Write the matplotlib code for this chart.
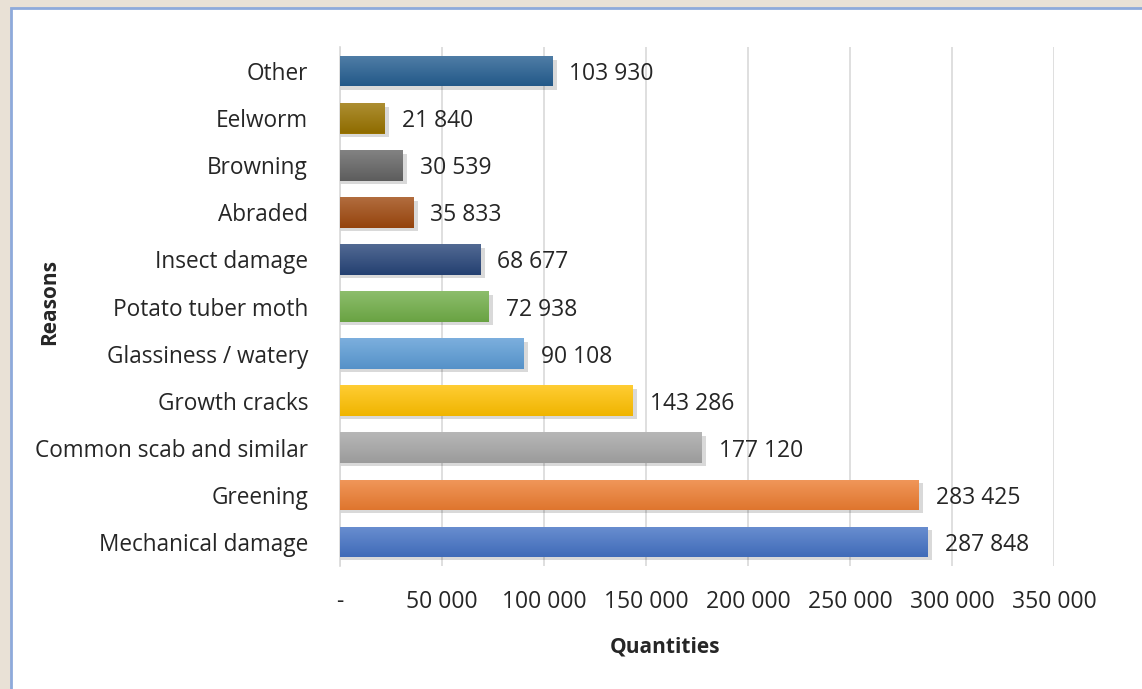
import numpy as np
import matplotlib.pyplot as plt
from matplotlib.patches import Rectangle
from matplotlib.colors import to_rgb

# Data (bottom to top)
reasons = ["Mechanical damage", "Greening", "Common scab and similar", "Growth cracks",
           "Glassiness / watery", "Potato tuber moth", "Insect damage", "Abraded",
           "Browning", "Eelworm", "Other"]
quantities = [287848, 283425, 177120, 143286, 90108, 72938, 68677, 35833, 30539, 21840, 103930]
bar_colors = ["#4472c4", "#ed7d31", "#a5a5a5", "#ffc000", "#5b9bd5", "#70ad47",
              "#264478", "#9e480e", "#636363", "#997300", "#255e91"]
xticks = [0, 50000, 100000, 150000, 200000, 250000, 300000, 350000]

plt.rcParams['font.family'] = ['Open Sans', 'DejaVu Sans']

def fmt(v):
    return "-" if v == 0 else f"{v:,}".replace(",", " ")

fig = plt.figure(figsize=(11.42, 6.89), dpi=100)
fig.patch.set_facecolor("#e9e1d6")
# chart frame
fig.patches.append(Rectangle((11 / 1142, -0.05), 1.1, 1 - 8 / 689 + 0.05,
                             transform=fig.transFigure, facecolor="white",
                             edgecolor="#8eaadb", linewidth=2, zorder=-10))

ax = fig.add_axes([340 / 1142, 1 - 566 / 689, (1054 - 340) / 1142, (566 - 47) / 689])
ax.set_facecolor("none")

y = np.arange(len(reasons))
h = 0.64
for yi, q, c in zip(y, quantities, bar_colors):
    # shadow
    ax.add_patch(Rectangle((0, yi - h / 2 - 0.07), q + 2200, h, facecolor="#000000",
                           alpha=0.15, edgecolor="none", zorder=2))
    bar = ax.barh(yi, q, height=h, color=c, zorder=3)[0]
    # vertical gradient: lighter on top
    base = np.array(to_rgb(c))
    light = base + (1 - base) * 0.2
    dark = base * 0.94
    grad = np.linspace(0, 1, 50)[:, None, None]
    img = dark * (1 - grad) + light * grad
    im = ax.imshow(img, extent=(0, q, yi - h / 2, yi + h / 2), origin="lower",
                   aspect="auto", zorder=4)
    im.set_clip_path(bar)
    ax.text(q + 8500, yi, fmt(q), va="center_baseline", ha="left", fontsize=16.5,
            color="#262626", zorder=5)

ax.set_xlim(0, 350000)
ax.set_ylim(-0.52, 10.52)
ax.set_yticks(y)
ax.set_yticklabels(reasons, fontsize=16.3, color="#262626")
ax.set_xticks(xticks)
ax.set_xticklabels([fmt(v) for v in xticks], fontsize=16.5, color="#262626")
ax.tick_params(axis="both", length=0)
ax.tick_params(axis="y", pad=23)
ax.tick_params(axis="x", pad=17)
ax.grid(axis="x", color="#d9d9d9", linewidth=1.2, zorder=0)
ax.set_axisbelow(True)
for s in ["top", "right", "bottom"]:
    ax.spines[s].set_visible(False)
ax.spines["left"].set_color("#d9d9d9")
ax.spines["left"].set_linewidth(1.2)

fig.text(665 / 1142, 1 - 647 / 689, "Quantities", ha="center", va="center",
         fontsize=15, fontweight="bold", color="#262626")
fig.text(50 / 1142, 1 - 302 / 689, "Reasons", ha="center", va="center",
         rotation=90, fontsize=15, fontweight="bold", color="#262626")

fig.savefig("out.png", dpi=100, facecolor=fig.get_facecolor())
